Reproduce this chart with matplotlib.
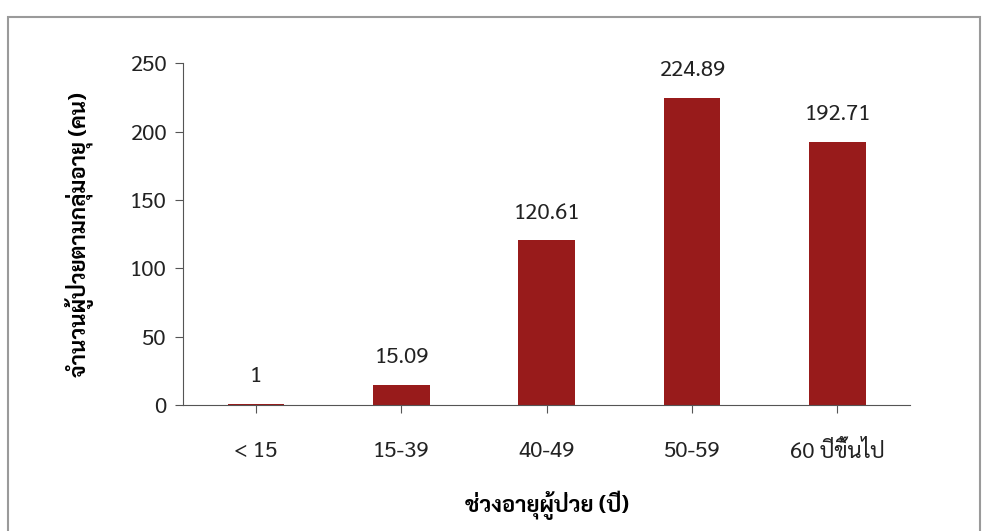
import matplotlib
matplotlib.use("Agg")
import matplotlib.pyplot as plt
from matplotlib.patches import Rectangle

# Age groups and patient counts
categories = ["< 15", "15-39", "40-49", "50-59", "60 ปีขึ้นไป"]
values = [1, 15.09, 120.61, 224.89, 192.71]
value_labels = ["1", "15.09", "120.61", "224.89", "192.71"]
y_ticks = [0, 50, 100, 150, 200, 250]

plt.rcParams["font.family"] = ["Sarabun", "Noto Sans Thai Looped", "DejaVu Sans"]

BAR_COLOR = "#981b1b"

fig = plt.figure(figsize=(9.85, 5.31), dpi=100)
ax = fig.add_axes([0.186, 0.237, 0.738, 0.644])

x = range(len(categories))
ax.bar(x, values, width=0.39, color=BAR_COLOR)
for xi, v, lab in zip(x, values, value_labels):
    ax.text(xi, v + 12, lab, ha="center", va="bottom", fontsize=16, color="#222222")

ax.set_xlim(-0.5, len(categories) - 0.5)
ax.set_ylim(0, 250)
ax.set_yticks(y_ticks)
ax.set_xticks(list(x))
ax.set_xticklabels(categories)
ax.tick_params(axis="both", labelsize=16, colors="#555555", labelcolor="#222222")
ax.tick_params(axis="x", length=6, pad=20)
ax.tick_params(axis="y", length=6, pad=6)

for side in ("top", "right"):
    ax.spines[side].set_visible(False)
for side in ("left", "bottom"):
    ax.spines[side].set_color("#555555")

ax.set_xlabel("ช่วงอายุผู้ป่วย (ปี)", fontsize=16, fontweight="bold", labelpad=20)
ax.set_ylabel("จำนวนผู้ป่วยตามกลุ่มอายุ (คน)", fontsize=16, fontweight="bold", labelpad=26)

# scanned chart frame
fig.patches.append(Rectangle((0.008, -0.05), 0.987, 1.018, transform=fig.transFigure,
                             fill=False, edgecolor="#9a9a9a", linewidth=1.5))

fig.savefig("out.png", dpi=100)
